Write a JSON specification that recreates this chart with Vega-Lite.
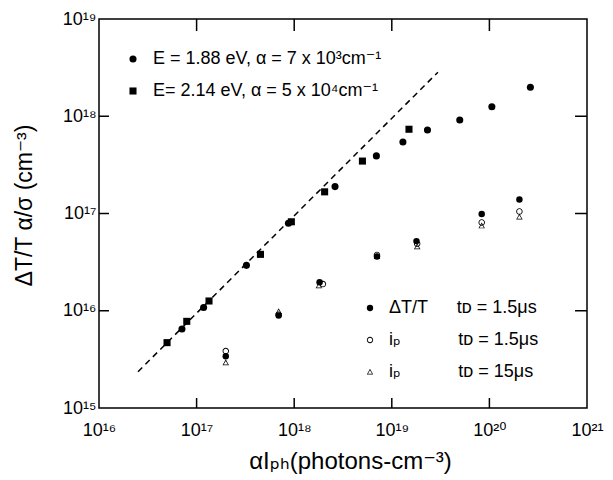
{
  "$schema": "https://vega.github.io/schema/vega-lite/v6.json",
  "width": 488,
  "height": 389,
  "autosize": "none",
  "padding": {"left": 99, "top": 19, "right": 26, "bottom": 72},
  "background": "white",
  "config": {
    "view": {"stroke": "black", "strokeWidth": 1.5},
    "font": "Liberation Sans, DejaVu Sans, sans-serif"
  },
  "datasets": {
    "fit": [
      {"x": 2.51e16, "y": 2.36e15},
      {"x": 2.97e19, "y": 2.84e18}
    ],
    "xticks": [{"v": 1e17}, {"v": 1e18}, {"v": 1e19}, {"v": 1e20}],
    "yticks": [{"v": 1e16}, {"v": 1e17}, {"v": 1e18}],
    "upper": [
      {"x": 4.98e16, "y": 4.70e15, "E": "2.14"},
      {"x": 7.93e16, "y": 7.78e15, "E": "2.14"},
      {"x": 1.34e17, "y": 1.26e16, "E": "2.14"},
      {"x": 4.51e17, "y": 3.80e16, "E": "2.14"},
      {"x": 9.35e17, "y": 8.22e16, "E": "2.14"},
      {"x": 2.05e18, "y": 1.67e17, "E": "2.14"},
      {"x": 5.00e18, "y": 3.46e17, "E": "2.14"},
      {"x": 1.50e19, "y": 7.35e17, "E": "2.14"},
      {"x": 7.08e16, "y": 6.49e15, "E": "1.88"},
      {"x": 1.18e17, "y": 1.08e16, "E": "1.88"},
      {"x": 3.24e17, "y": 2.93e16, "E": "1.88"},
      {"x": 8.73e17, "y": 7.94e16, "E": "1.88"},
      {"x": 2.62e18, "y": 1.89e17, "E": "1.88"},
      {"x": 6.95e18, "y": 3.91e17, "E": "1.88"},
      {"x": 1.30e19, "y": 5.43e17, "E": "1.88"},
      {"x": 2.32e19, "y": 7.21e17, "E": "1.88"},
      {"x": 4.97e19, "y": 9.16e17, "E": "1.88"},
      {"x": 1.06e20, "y": 1.25e18, "E": "1.88"},
      {"x": 2.63e20, "y": 1.99e18, "E": "1.88"}
    ],
    "lower": [
      {"x": 1.99e17, "y": 2.93e15, "M": "ip15"},
      {"x": 6.93e17, "y": 9.82e15, "M": "ip15"},
      {"x": 1.79e18, "y": 1.81e16, "M": "ip15"},
      {"x": 7.05e18, "y": 3.63e16, "M": "ip15"},
      {"x": 1.82e19, "y": 4.57e16, "M": "ip15"},
      {"x": 8.34e19, "y": 7.48e16, "M": "ip15"},
      {"x": 2.03e20, "y": 9.23e16, "M": "ip15"},
      {"x": 1.99e17, "y": 3.85e15, "M": "ip1"},
      {"x": 6.93e17, "y": 9.12e15, "M": "ip1"},
      {"x": 1.97e18, "y": 1.88e16, "M": "ip1"},
      {"x": 7.05e18, "y": 3.75e16, "M": "ip1"},
      {"x": 1.82e19, "y": 4.88e16, "M": "ip1"},
      {"x": 8.34e19, "y": 8.09e16, "M": "ip1"},
      {"x": 2.03e20, "y": 1.05e17, "M": "ip1"},
      {"x": 1.99e17, "y": 3.40e15, "M": "dT"},
      {"x": 6.93e17, "y": 8.93e15, "M": "dT"},
      {"x": 1.82e18, "y": 1.96e16, "M": "dT"},
      {"x": 7.05e18, "y": 3.61e16, "M": "dT"},
      {"x": 1.79e19, "y": 5.20e16, "M": "dT"},
      {"x": 8.34e19, "y": 9.86e16, "M": "dT"},
      {"x": 2.03e20, "y": 1.39e17, "M": "dT"}
    ]
  },
  "layer": [
    {
      "data": {"name": "fit"},
      "mark": {"type": "line", "color": "black", "strokeWidth": 1.5, "strokeDash": [6, 4.5]},
      "encoding": {
        "x": {
          "field": "x", "type": "quantitative",
          "scale": {"type": "log", "domain": [1e16, 1e21], "nice": false},
          "axis": {
            "orient": "bottom", "domain": false, "ticks": false,
            "values": [1e16, 1e17, 1e18, 1e19, 1e20, 1e21],
            "labelExpr": "['10¹⁵','10¹⁶','10¹⁷','10¹⁸','10¹⁹','10²⁰','10²¹'][round(log(datum.value)/LN10)-15]",
            "labelFontSize": 18, "labelColor": "black", "labelPadding": 27,
            "labelBaseline": "alphabetic", "labelFlush": false, "labelOverlap": false, "labelBound": false,
            "grid": false,
            "title": "αIₚₕ(photons-cm⁻³)",
            "titleFontSize": 24, "titleFontWeight": "normal", "titleColor": "black",
            "titleX": 251, "titleY": 60, "titleBaseline": "alphabetic", "titleAlign": "center"
          }
        },
        "y": {
          "field": "y", "type": "quantitative",
          "scale": {"type": "log", "domain": [1e15, 1e19], "nice": false},
          "axis": {
            "orient": "left", "domain": false, "ticks": false,
            "values": [1e15, 1e16, 1e17, 1e18, 1e19],
            "labelExpr": "['10¹⁵','10¹⁶','10¹⁷','10¹⁸','10¹⁹','10²⁰','10²¹'][round(log(datum.value)/LN10)-15]",
            "labelFontSize": 18, "labelColor": "black", "labelPadding": 3,
            "labelAlign": "right", "labelBaseline": "middle", "labelFlush": false, "labelOverlap": false, "labelBound": false,
            "grid": false,
            "title": "ΔT/T  α/σ (cm⁻³)",
            "titleFontSize": 23, "titleFontWeight": "normal", "titleColor": "black",
            "titleX": -68, "titleY": 186, "titleAngle": 270, "titleBaseline": "alphabetic", "titleAlign": "center"
          }
        }
      }
    },
    {
      "data": {"name": "xticks"},
      "mark": {"type": "rule", "color": "black", "strokeWidth": 1.5},
      "encoding": {
        "x": {"field": "v", "type": "quantitative", "scale": {"type": "log", "domain": [1e16, 1e21], "nice": false}, "axis": null},
        "y": {"datum": 1e15, "type": "quantitative", "scale": {"type": "log", "domain": [1e15, 1e19], "nice": false}, "axis": null},
        "y2": {"datum": 1.267e15}
      }
    },
    {
      "data": {"name": "xticks"},
      "mark": {"type": "rule", "color": "black", "strokeWidth": 1.5},
      "encoding": {
        "x": {"field": "v", "type": "quantitative", "scale": {"type": "log", "domain": [1e16, 1e21], "nice": false}, "axis": null},
        "y": {"datum": 7.52e18, "type": "quantitative", "scale": {"type": "log", "domain": [1e15, 1e19], "nice": false}, "axis": null},
        "y2": {"datum": 1e19}
      }
    },
    {
      "data": {"name": "yticks"},
      "mark": {"type": "rule", "color": "black", "strokeWidth": 1.5},
      "encoding": {
        "y": {"field": "v", "type": "quantitative", "scale": {"type": "log", "domain": [1e15, 1e19], "nice": false}, "axis": null},
        "x": {"datum": 1e16, "type": "quantitative", "scale": {"type": "log", "domain": [1e16, 1e21], "nice": false}, "axis": null},
        "x2": {"datum": 1.266e16}
      }
    },
    {
      "data": {"name": "yticks"},
      "mark": {"type": "rule", "color": "black", "strokeWidth": 1.5},
      "encoding": {
        "y": {"field": "v", "type": "quantitative", "scale": {"type": "log", "domain": [1e15, 1e19], "nice": false}, "axis": null},
        "x": {"datum": 7.54e20, "type": "quantitative", "scale": {"type": "log", "domain": [1e16, 1e21], "nice": false}, "axis": null},
        "x2": {"datum": 1e21}
      }
    },
    {
      "data": {"name": "upper"},
      "mark": {"type": "point", "filled": true, "color": "black", "size": 50, "opacity": 1},
      "encoding": {
        "x": {"field": "x", "type": "quantitative", "scale": {"type": "log", "domain": [1e16, 1e21], "nice": false}, "axis": null},
        "y": {"field": "y", "type": "quantitative", "scale": {"type": "log", "domain": [1e15, 1e19], "nice": false}, "axis": null},
        "shape": {
          "field": "E", "type": "nominal",
          "scale": {"domain": ["1.88", "2.14"], "range": ["circle", "square"]},
          "legend": {
            "orient": "none", "legendX": 25, "legendY": 31, "title": null, "padding": 0,
            "labelExpr": "datum.value == '1.88' ? 'E = 1.88 eV, α = 7 x 10³cm⁻¹' : 'E= 2.14 eV, α = 5 x 10⁴cm⁻¹'",
            "labelFontSize": 18, "labelColor": "black", "labelLimit": 500, "labelOffset": 11,
            "symbolSize": 50, "symbolFillColor": "black", "symbolStrokeColor": "black", "symbolStrokeWidth": 0,
            "rowPadding": 14
          }
        }
      }
    },
    {
      "data": {"name": "lower"},
      "mark": {"type": "point", "filled": true, "color": "black", "size": 42, "opacity": 1},
      "encoding": {
        "x": {"field": "x", "type": "quantitative", "scale": {"type": "log", "domain": [1e16, 1e21], "nice": false}, "axis": null},
        "y": {"field": "y", "type": "quantitative", "scale": {"type": "log", "domain": [1e15, 1e19], "nice": false}, "axis": null},
        "shape": {
          "field": "M", "type": "nominal",
          "scale": {
            "domain": ["dT", "ip1", "ip15"],
            "range": [
              "circle",
              "M1,0A1,1,0,1,1,-1,0A1,1,0,1,1,1,0ZM0.72,0A0.72,0.72,0,1,0,-0.72,0A0.72,0.72,0,1,0,0.72,0Z",
              "M0,-1L1,0.8L-1,0.8ZM0,-0.52L-0.66,0.58L0.66,0.58Z"
            ]
          },
          "legend": {
            "orient": "none", "legendX": 262, "legendY": 280, "title": null, "padding": 0,
            "labelExpr": "datum.value == 'dT' ? 'ΔT/T\u2003\u2009\u2009\u2009tᴅ = 1.5μs' : datum.value == 'ip1' ? 'iₚ\u2003\u2003\u2003\u2009tᴅ = 1.5μs' : 'iₚ\u2003\u2003\u2003\u2009tᴅ = 15μs'",
            "labelFontSize": 18, "labelColor": "black", "labelLimit": 500, "labelOffset": 10,
            "symbolSize": 40, "symbolFillColor": "black", "symbolStrokeWidth": 0,
            "rowPadding": 14
          }
        }
      }
    },
    {
      "mark": {"type": "rule", "color": "black", "strokeWidth": 1},
      "encoding": {
        "x": {"datum": 1.40e17, "type": "quantitative", "scale": {"type": "log", "domain": [1e16, 1e21], "nice": false}, "axis": null},
        "x2": {"datum": 3.24e17},
        "y": {"datum": 6.10e16, "type": "quantitative", "scale": {"type": "log", "domain": [1e15, 1e19], "nice": false}, "axis": null}
      }
    },
    {
      "mark": {"type": "point", "shape": "triangle-left", "filled": true, "color": "black", "size": 22, "opacity": 1},
      "encoding": {
        "x": {"datum": 1.40e17, "type": "quantitative", "scale": {"type": "log", "domain": [1e16, 1e21], "nice": false}, "axis": null},
        "y": {"datum": 6.10e16, "type": "quantitative", "scale": {"type": "log", "domain": [1e15, 1e19], "nice": false}, "axis": null}
      }
    },
    {
      "mark": {"type": "text", "text": "Scale", "fontSize": 11, "color": "black", "align": "center", "baseline": "middle", "font": "DejaVu Sans", "letterSpacing": 1},
      "encoding": {
        "x": {"datum": 2.03e17, "type": "quantitative", "scale": {"type": "log", "domain": [1e16, 1e21], "nice": false}, "axis": null},
        "y": {"datum": 4.66e16, "type": "quantitative", "scale": {"type": "log", "domain": [1e15, 1e19], "nice": false}, "axis": null}
      }
    }
  ],
  "resolve": {
    "scale": {"shape": "independent"},
    "axis": {"x": "independent", "y": "independent"}
  }
}
